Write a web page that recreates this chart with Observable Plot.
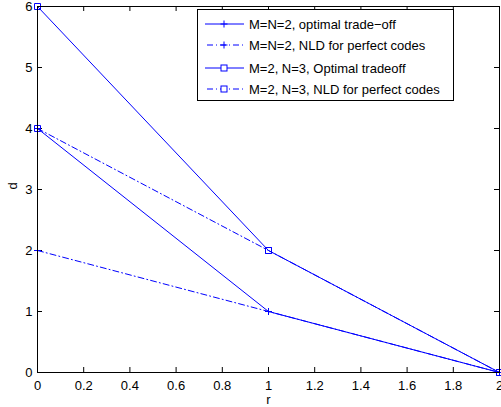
<!DOCTYPE html>
<html>
<head>
<meta charset="utf-8">
<script src="https://cdn.jsdelivr.net/npm/d3@7"></script>
<script src="https://cdn.jsdelivr.net/npm/@observablehq/plot@0.6"></script>
<style>
body { margin: 0; background: #fff; }
#wrap { position: relative; width: 501px; height: 407px; font-family: "Liberation Sans", Arial, sans-serif; }
#legend { position: absolute; left: 197px; top: 9px; width: 257px; height: 92px; background: #fff; border: 1px solid #000; box-sizing: border-box; }
</style>
</head>
<body>
<div id="wrap"></div>
<script>
const rValues = [0, 1, 2];
const seriesNames = [
  "M=N=2, optimal trade\u2212off",
  "M=N=2, NLD for perfect codes",
  "M=2, N=3, Optimal tradeoff",
  "M=2, N=3, NLD for perfect codes"
];
const d_MN2_opt = [4, 1, 0];
const d_MN2_nld = [2, 1, 0];
const d_M2N3_opt = [6, 2, 0];
const d_M2N3_nld = [4, 2, 0];
const seriesDash = ["none", "6,3,1,3", "none", "6,3,1,3"];
const seriesMarker = ["plus", "plus", "square", "square"];
const xTicks = [0, 0.2, 0.4, 0.6, 0.8, 1, 1.2, 1.4, 1.6, 1.8, 2];
const xTickLabels = ["0", "0.2", "0.4", "0.6", "0.8", "1", "1.2", "1.4", "1.6", "1.8", "2"];
const yTicks = [0, 1, 2, 3, 4, 5, 6];
const yTickLabels = ["0", "1", "2", "3", "4", "5", "6"];

const allSeries = [d_MN2_opt, d_MN2_nld, d_M2N3_opt, d_M2N3_nld];
const rows = [];
allSeries.forEach((vals, i) => vals.forEach((d, j) => rows.push({s: i, r: rValues[j], d})));

const plusSym = {draw(ctx, size) { const h = 3.5; ctx.moveTo(-h, 0); ctx.lineTo(h, 0); ctx.moveTo(0, -h); ctx.lineTo(0, h); }};
const squareSym = {draw(ctx, size) { const h = 3; ctx.rect(-h, -h, 2 * h, 2 * h); }};

const W = 501, H = 407, mL = 37, mR = 2, mT = 6, mB = 35;
const pw = W - mL - mR, ph = H - mT - mB;
const font = '"Liberation Sans", Arial, sans-serif';

const marks = [];
allSeries.forEach((vals, i) => {
  const data = rows.filter(o => o.s === i);
  marks.push(Plot.line(data, {x: "r", y: "d", stroke: "#0000ff", strokeWidth: 1, strokeDasharray: seriesDash[i]}));
  marks.push(Plot.dot(data, {x: "r", y: "d", stroke: "#0000ff", strokeWidth: 1, fill: "none", symbol: seriesMarker[i] === "plus" ? plusSym : squareSym}));
});

const chart = Plot.plot({
  width: W, height: H,
  marginLeft: mL, marginRight: mR, marginTop: mT, marginBottom: mB,
  style: {fontFamily: font, fontSize: "13px", color: "#000", background: "#fff", overflow: "visible"},
  x: {domain: [0, 2], ticks: xTicks, tickFormat: (d, i) => xTickLabels[i], tickSize: 0, tickPadding: 8, label: null},
  y: {domain: [0, 6], ticks: yTicks, tickFormat: (d, i) => yTickLabels[i], tickSize: 0, tickPadding: 5, label: null},
  marks: [
    Plot.tickX(xTicks, {x: d => d, stroke: "#000", insetTop: ph - 5}),
    Plot.tickX(xTicks, {x: d => d, stroke: "#000", insetBottom: ph - 5}),
    Plot.tickY(yTicks, {y: d => d, stroke: "#000", insetRight: pw - 5}),
    Plot.tickY(yTicks, {y: d => d, stroke: "#000", insetLeft: pw - 5}),
    ...marks,
    Plot.frame({stroke: "#000", strokeWidth: 1}),
    Plot.text(["r"], {frameAnchor: "bottom", dy: 31, fontSize: 13, fill: "#000"}),
    Plot.text(["d"], {frameAnchor: "left", dx: -25, rotate: -90, fontSize: 13, fill: "#000"})
  ]
});
const wrap = document.getElementById("wrap");
wrap.appendChild(chart);

// Legend
const leg = document.createElement("div");
leg.id = "legend";
const rowY = [14, 35, 58, 79];
let svg = `<svg width="257" height="92" style="position:absolute;left:0;top:0" font-family='${font}' font-size="13">`;
seriesNames.forEach((name, i) => {
  const y = rowY[i];
  svg += `<line x1="7" x2="46" y1="${y}" y2="${y}" stroke="#0000ff" stroke-width="1" ${seriesDash[i] !== "none" ? `stroke-dasharray="${seriesDash[i]}" stroke-dashoffset="-2"` : ""}/>`;
  if (seriesMarker[i] === "plus") svg += `<path d="M22.5,${y}h7M26,${y - 3.5}v7" stroke="#0000ff" fill="none"/>`;
  else svg += `<rect x="23" y="${y - 3}" width="6" height="6" stroke="#0000ff" fill="#fff"/>`;
  svg += `<text x="51" y="${y}" dy="0.35em" fill="#000">${name}</text>`;
});
svg += `</svg>`;
leg.innerHTML = svg;
wrap.appendChild(leg);
</script>
</body>
</html>
